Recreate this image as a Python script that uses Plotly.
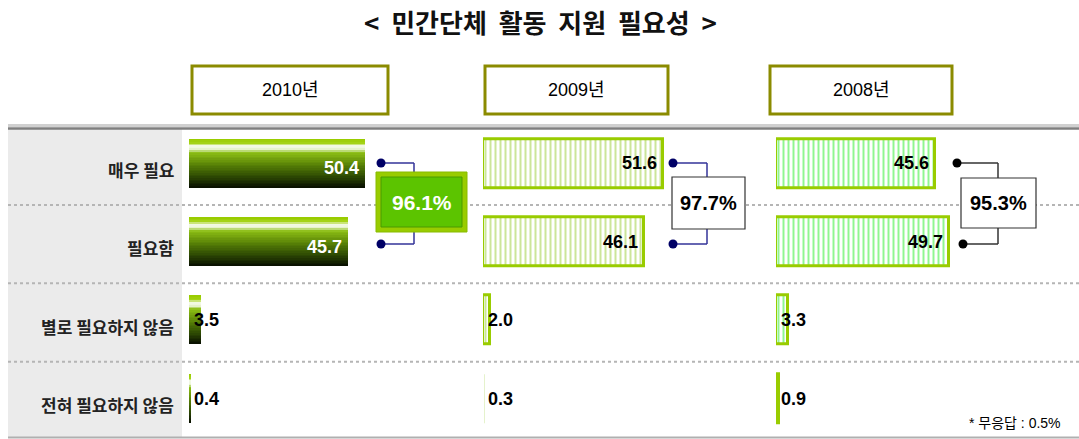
import plotly.graph_objects as go

# ---------------- data ----------------
categories = ["매우 필요", "필요함", "별로 필요하지 않음", "전혀 필요하지 않음"]
years = ["2010년", "2009년", "2008년"]
values_2010 = [50.4, 45.7, 3.5, 0.4]
values_2009 = [51.6, 46.1, 2.0, 0.3]
values_2008 = [45.6, 49.7, 3.3, 0.9]
totals = ["96.1%", "97.7%", "95.3%"]
title_text = "<  민간단체  활동  지원  필요성  >"
note_text = "* 무응답 : 0.5%"

W, H = 1079, 439
NUM_FONT = "Liberation Sans Narrow, Arial Narrow, Liberation Sans, Noto Sans CJK KR"
KR_FONT = "Noto Sans CJK KR, Liberation Sans"


def px(x):
    return x / W


def py(y):
    return 1 - y / H


def hex2rgb(h):
    h = h.lstrip("#")
    return [int(h[i:i + 2], 16) for i in (0, 2, 4)]


def interp_colors(stops, n):
    # stops: list of (position 0..1, hex colour) -> n colours
    out = []
    for k in range(n):
        t = k / (n - 1)
        for (p0, c0), (p1, c1) in zip(stops[:-1], stops[1:]):
            if p0 <= t <= p1:
                f = 0 if p1 == p0 else (t - p0) / (p1 - p0)
                a, b = hex2rgb(c0), hex2rgb(c1)
                out.append("rgb(%d,%d,%d)" % tuple(round(a[j] + (b[j] - a[j]) * f) for j in range(3)))
                break
    return out


fig = go.Figure()

BAR_W = 0.626
axes = [("x", "y"), ("x2", "y2"), ("x3", "y3")]

# 2010: gradient bar built from overlaid slices (each covers from its top to bar bottom)
grad = interp_colors([(0.0, "#99cc00"), (0.08, "#a6d41a"), (0.13, "#f2f9e4"),
                      (0.2, "#eef7dc"), (0.28, "#8cbe14"), (0.55, "#557e06"),
                      (0.8, "#2a4403"), (1.0, "#0a1200")], 30)
n = len(grad)
step = BAR_W / n
for i, c in enumerate(grad):
    fig.add_trace(go.Bar(
        x=values_2010, y=categories, orientation="h",
        width=BAR_W - i * step, offset=-BAR_W / 2 + i * step,
        marker=dict(color=c, line=dict(width=0)),
        xaxis="x", yaxis="y", showlegend=False, hoverinfo="skip"))

# 2009 and 2008: hatched bars
for vals, (xa, ya), fg in [(values_2009, axes[1], "#99cc33"),
                           (values_2008, axes[2], "#22ee22")]:
    fig.add_trace(go.Bar(
        x=vals, y=categories, orientation="h", width=BAR_W,
        marker=dict(color="white",
                    line=dict(color="#99cc00", width=[3, 3, 3, 0 if vals[3] < 0.5 else 3]),
                    pattern=dict(shape="|", fgcolor=fg, bgcolor="white",
                                 size=5, solidity=0.4)),
        xaxis=xa, yaxis=ya, showlegend=False, hoverinfo="skip"))

# value labels
annotations = []
for vals, (xa, ya), col, ysh in [(values_2010, axes[0], "white", -5),
                                 (values_2009, axes[1], "black", 0),
                                 (values_2008, axes[2], "black", 0)]:
    for cat, v in zip(categories, vals):
        big = v >= 10
        annotations.append(dict(
            x=v if big else 0, y=cat, xref=xa, yref=ya,
            text=f"{v:.1f}", showarrow=False,
            xanchor="right" if big else "left", yanchor="middle",
            xshift=-4 if big else 3, yshift=ysh if big else 0,
            font=dict(family=NUM_FONT, size=18,
                      color=col if big else "black", weight="bold")))

# category labels in left column
for cat in categories:
    annotations.append(dict(
        x=px(176), y=cat, xref="paper", yref="y", text=cat, showarrow=False,
        xanchor="right", yanchor="middle", yshift=-6,
        font=dict(family=KR_FONT, size=17, color="#222222", weight="bold")))

# title
annotations.append(dict(x=px(540), y=py(22), xref="paper", yref="paper",
                        text=title_text, showarrow=False, xanchor="center", yanchor="middle",
                        font=dict(family=KR_FONT, size=26, color="#111111", weight="bold")))

# year header boxes
shapes = []
boxes = [(192, 388), (485, 668), (770, 952)]
for (x0, x1), yr in zip(boxes, years):
    shapes.append(dict(type="rect", xref="paper", yref="paper",
                       x0=px(x0), x1=px(x1), y0=py(114), y1=py(66),
                       line=dict(color="#8b8b00", width=3), fillcolor="white"))
    annotations.append(dict(x=px((x0 + x1) / 2), y=py(90), xref="paper", yref="paper",
                            text=yr, showarrow=False, xanchor="center", yanchor="middle",
                            font=dict(family=NUM_FONT, size=18, color="black")))

# background/frame shapes (layer below)
shapes.append(dict(type="rect", xref="paper", yref="paper", layer="below",
                   x0=px(8), x1=px(182), y0=py(437), y1=py(129),
                   fillcolor="#ebebeb", line=dict(width=0)))
shapes.append(dict(type="rect", xref="paper", yref="paper", layer="below",
                   x0=px(8), x1=1, y0=py(127), y1=py(124),
                   fillcolor="#d0d0d0", line=dict(width=0)))
shapes.append(dict(type="line", xref="paper", yref="paper", layer="below",
                   x0=px(8), x1=1, y0=py(128.5), y1=py(128.5),
                   line=dict(color="#7f7f7f", width=2.5)))
shapes.append(dict(type="line", xref="paper", yref="paper", layer="below",
                   x0=px(8), x1=1, y0=py(437.5), y1=py(437.5),
                   line=dict(color="#b0b0b0", width=2)))
for yv in [0.53, 1.53, 2.53]:
    shapes.append(dict(type="line", xref="paper", yref="y", layer="below",
                       x0=px(8), x1=1, y0=yv, y1=yv,
                       line=dict(color="#b5b5b5", width=2, dash="dot")))


# brackets
def bracket(dx_top, dx_bot, yt, yb, xv, bt, bb, lcol, dcol):
    out = []
    out.append(dict(type="line", xref="paper", yref="paper",
                    x0=px(dx_top), x1=px(xv), y0=py(yt), y1=py(yt), line=dict(color=lcol, width=1.5)))
    out.append(dict(type="line", xref="paper", yref="paper",
                    x0=px(xv), x1=px(xv), y0=py(yt), y1=py(bt), line=dict(color=lcol, width=1.5)))
    out.append(dict(type="line", xref="paper", yref="paper",
                    x0=px(dx_bot), x1=px(xv), y0=py(yb), y1=py(yb), line=dict(color=lcol, width=1.5)))
    out.append(dict(type="line", xref="paper", yref="paper",
                    x0=px(xv), x1=px(xv), y0=py(yb), y1=py(bb), line=dict(color=lcol, width=1.5)))
    for (cx, cy) in [(dx_top, yt), (dx_bot, yb)]:
        out.append(dict(type="circle", xref="paper", yref="paper",
                        x0=px(cx - 4.5), x1=px(cx + 4.5), y0=py(cy + 4.5), y1=py(cy - 4.5),
                        fillcolor=dcol, line=dict(width=0)))
    return out


shapes += bracket(381, 381, 163, 244, 414, 172, 232, "#333399", "#000066")
shapes += bracket(673, 673, 163, 244, 707, 177, 229, "#333399", "#000066")
shapes += bracket(957, 963, 163, 244, 998, 178, 228, "#333333", "#000000")

# 2010 total: bevelled green box
shapes.append(dict(type="rect", xref="paper", yref="paper",
                   x0=px(376), x1=px(467), y0=py(232), y1=py(172),
                   fillcolor="#99cc00", line=dict(color="#88bb00", width=1)))
shapes.append(dict(type="rect", xref="paper", yref="paper",
                   x0=px(381), x1=px(462), y0=py(227), y1=py(177),
                   fillcolor="#5cc400", line=dict(color="#4a9a00", width=1)))
annotations.append(dict(x=px(421.5), y=py(202), xref="paper", yref="paper",
                        text=totals[0], showarrow=False, xanchor="center", yanchor="middle",
                        font=dict(family=NUM_FONT, size=21, color="white", weight="bold")))
# 2009 / 2008 total boxes
for (x0, x1, y0, y1), t in [((672, 745, 177, 229), totals[1]), ((961, 1036, 178, 228), totals[2])]:
    shapes.append(dict(type="rect", xref="paper", yref="paper",
                       x0=px(x0), x1=px(x1), y0=py(y1), y1=py(y0),
                       fillcolor="white", line=dict(color="#333333", width=1.2)))
    annotations.append(dict(x=px((x0 + x1) / 2), y=py((y0 + y1) / 2), xref="paper", yref="paper",
                            text=t, showarrow=False, xanchor="center", yanchor="middle",
                            font=dict(family=NUM_FONT, size=20, color="black", weight="bold")))

annotations.append(dict(x=px(1063), y=py(423), xref="paper", yref="paper",
                        text=note_text, showarrow=False, xanchor="right", yanchor="middle",
                        font=dict(family=NUM_FONT, size=14, color="black")))

ydom = [1 - 437.7 / H, 1 - 124.3 / H]
yax = dict(domain=ydom, type="category", categoryarray=categories, range=[3.5, -0.5],
           showticklabels=False, showgrid=False, zeroline=False, showline=False, ticks="")
xax = dict(range=[0, 80], showticklabels=False, showgrid=False, zeroline=False,
           showline=False, ticks="", fixedrange=True)

fig.update_layout(
    width=W, height=H, margin=dict(l=0, r=0, t=0, b=0),
    paper_bgcolor="white", plot_bgcolor="rgba(0,0,0,0)",
    barmode="overlay", bargap=0,
    xaxis=dict(xax, domain=[px(189), px(468)], anchor="y"),
    xaxis2=dict(xax, domain=[px(483), px(762)], anchor="y2"),
    xaxis3=dict(xax, domain=[px(776), px(1055)], anchor="y3"),
    yaxis=dict(yax, anchor="x"),
    yaxis2=dict(yax, anchor="x2"),
    yaxis3=dict(yax, anchor="x3"),
    shapes=shapes, annotations=annotations,
)

fig.write_html("out.html", config={"displayModeBar": False},
               post_script="document.body.style.margin='0';document.body.style.overflow='hidden';")
